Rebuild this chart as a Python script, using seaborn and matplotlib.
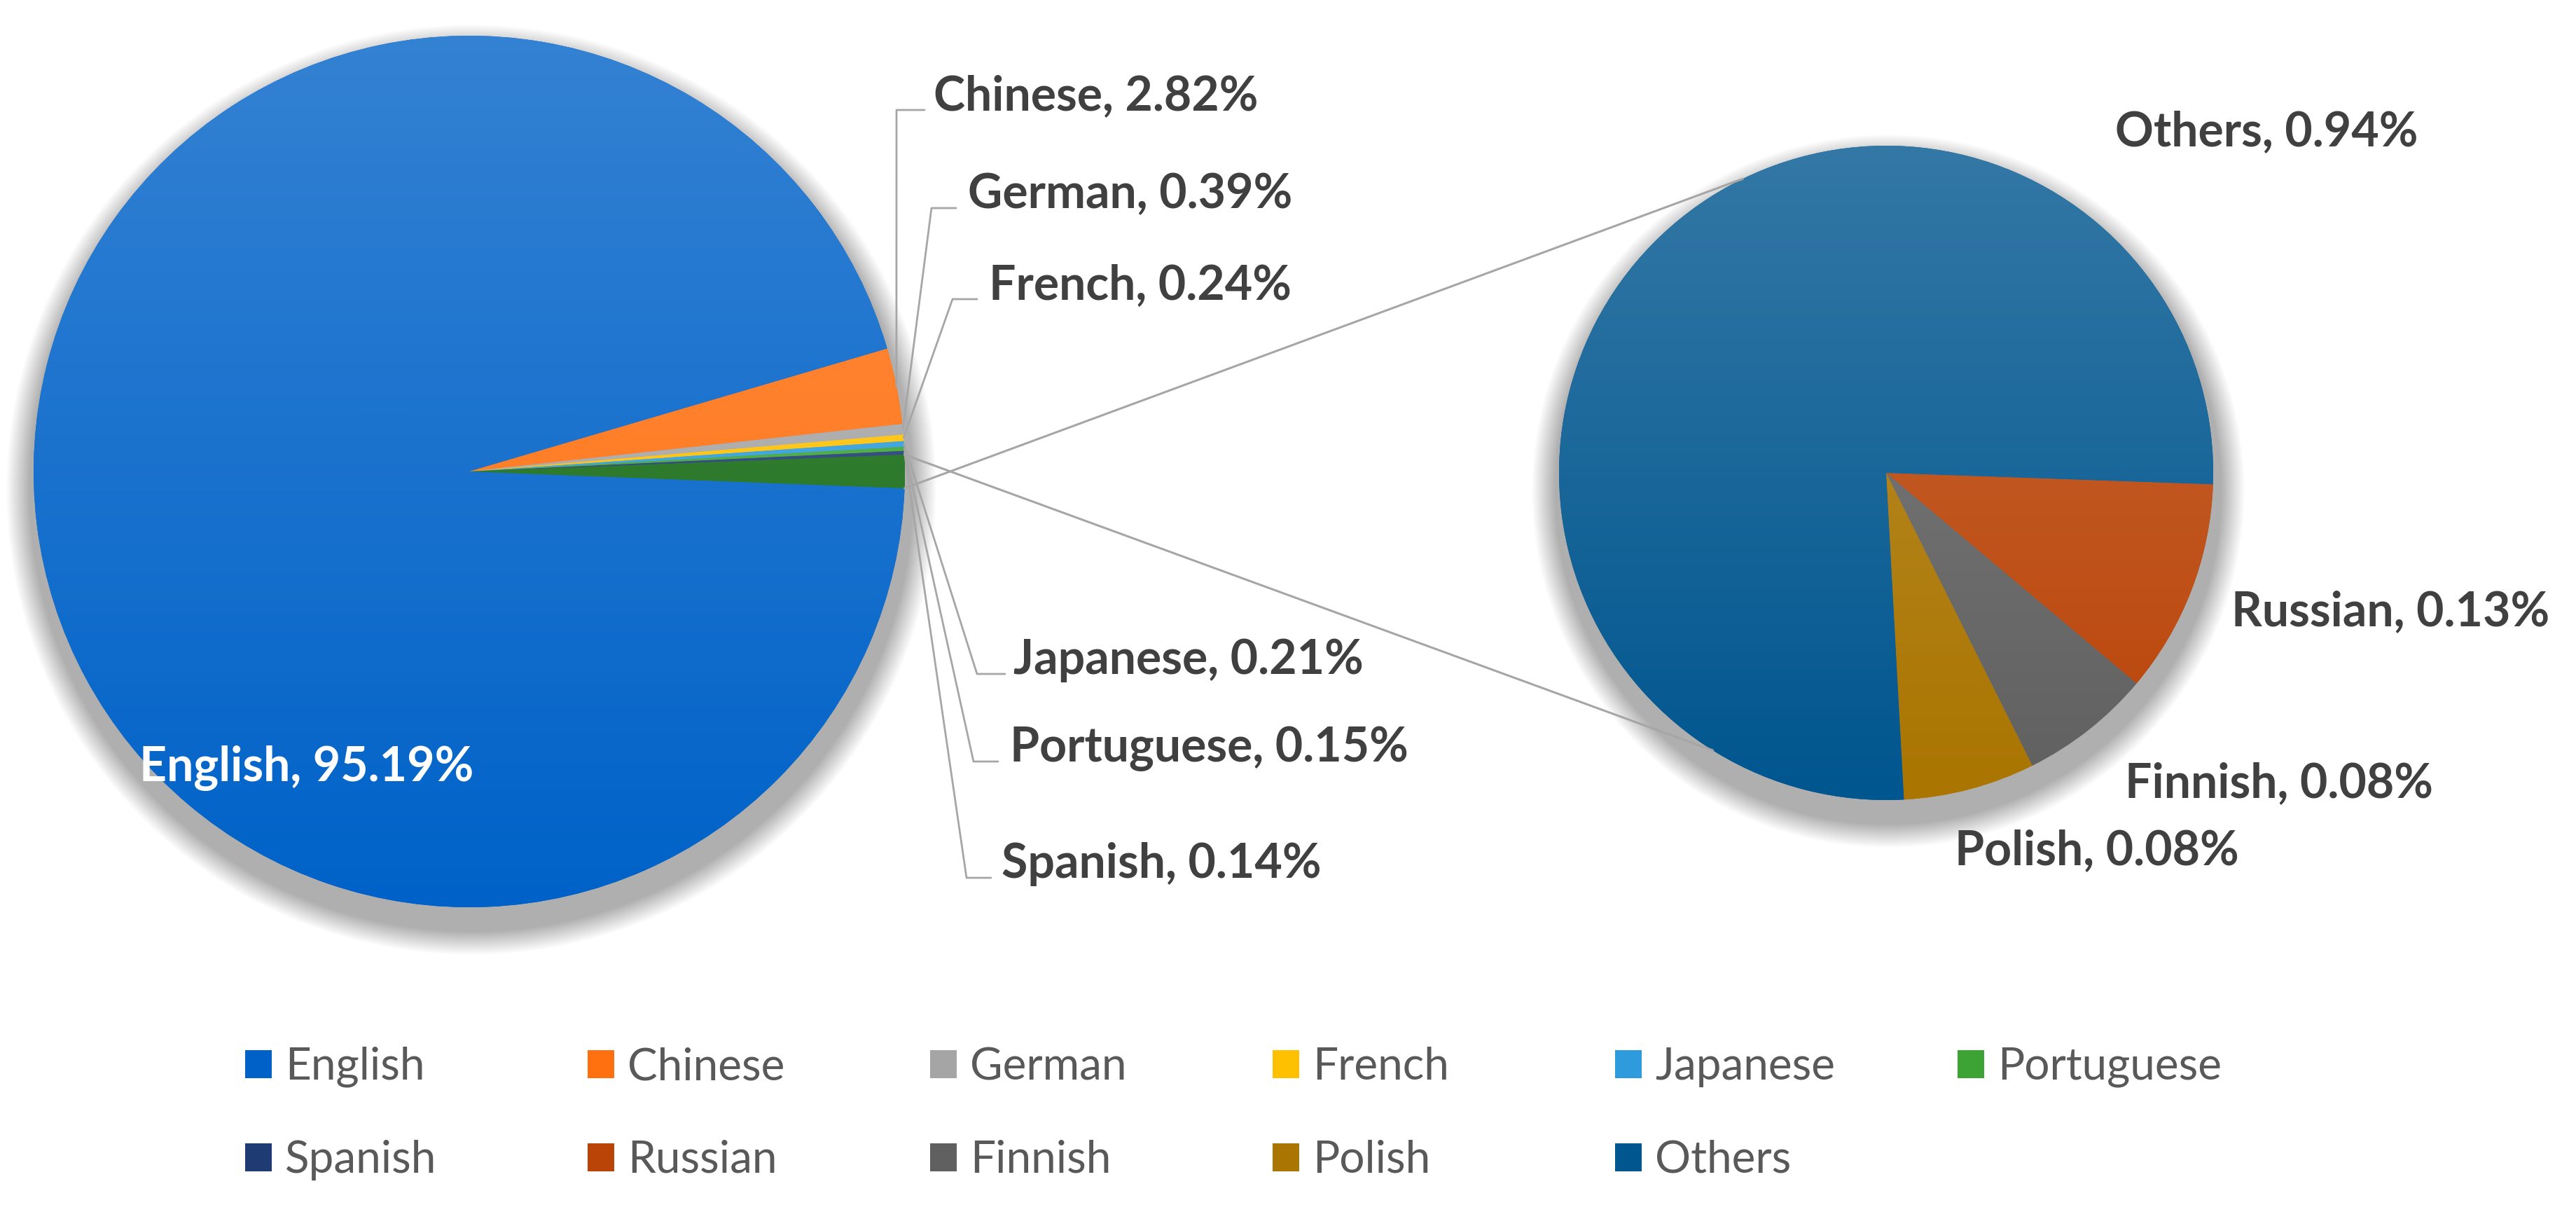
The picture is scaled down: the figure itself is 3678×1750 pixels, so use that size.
import numpy as np
import matplotlib
matplotlib.use("Agg")
import matplotlib.pyplot as plt
import matplotlib.colors as mcolors
from matplotlib.patches import Circle, Rectangle
import seaborn as sns

# share of pages by content language (%)
main_langs = ["English", "Chinese", "German", "French", "Japanese", "Portuguese", "Spanish"]
main_share = [95.19, 2.82, 0.39, 0.24, 0.21, 0.15, 0.14]
minor_langs = ["Russian", "Finnish", "Polish", "Others"]
minor_share = [0.13, 0.08, 0.08, 0.94]
legend_langs = ["English", "Chinese", "German", "French", "Japanese", "Portuguese",
                "Spanish", "Russian", "Finnish", "Polish", "Others"]

colors = {
    "English": "#0062C8", "Chinese": "#FF7010", "German": "#A5A5A5",
    "French": "#FFC000", "Japanese": "#2E9CDC", "Portuguese": "#3DA335",
    "Spanish": "#1F3B73", "Russian": "#BA4408", "Finnish": "#606060",
    "Polish": "#AA7500", "Others": "#00568F",
}
agg_color = "#176C16"

sns.set_theme(style="white")
plt.rcParams['font.family'] = ['Lato', 'DejaVu Sans']

W, H = 3678, 1750
fig = plt.figure(figsize=(W / 100, H / 100), dpi=100)
ax = fig.add_axes([0, 0, 1, 1])


def Y(y):
    return H - y


L_C, L_R = (670, Y(673)), 622
R_C, R_R = (2693, Y(675)), 467
line_col = "#A6A6A6"
lab_col = "#404040"


def shadow(center, r):
    # soft drop shadow, mostly below the pie
    n = 40
    for k in range(n):
        f = 1 - k / n
        ax.add_patch(Circle((center[0] + 3, center[1] - 26), r + 8 + 34 * f,
                            color='k', alpha=0.008, lw=0, zorder=0))


def grad_fill(wedges, cols, center, r):
    # excel style vertical gradient, lighter on top
    for w, c in zip(wedges, cols):
        rgb = np.array(mcolors.to_rgb(c))
        top = rgb + (1 - rgb) * 0.2
        pal = np.array(sns.blend_palette([rgb, top], 64))
        im = ax.imshow(pal[:, None, :], extent=[center[0] - r, center[0] + r,
                                                center[1] - r, center[1] + r],
                       origin='lower', aspect='auto', interpolation='bilinear', zorder=2)
        im.set_clip_path(w)


shadow(L_C, L_R)
shadow(R_C, R_R)

agg = sum(minor_share)
agg_deg = agg / (sum(main_share) + agg) * 360
left_cols = [colors[n] for n in main_langs] + [agg_color]
wl, _ = ax.pie(main_share + [agg], colors=left_cols, startangle=-agg_deg / 2,
               counterclock=False, center=L_C, radius=L_R, frame=True,
               wedgeprops=dict(linewidth=0, zorder=1))
grad_fill(wl, left_cols, L_C, L_R)

right_cols = [colors[n] for n in minor_langs]
wr, _ = ax.pie(minor_share, colors=right_cols, startangle=-2, counterclock=False,
               center=R_C, radius=R_R, frame=True, wedgeprops=dict(linewidth=0, zorder=1))
grad_fill(wr, right_cols, R_C, R_R)


def on_circle(center, r, deg):
    t = np.deg2rad(deg)
    return center[0] + r * np.cos(t), center[1] + r * np.sin(t)


# connector lines between the two pies
for a_left, a_right in [(wl[-1].theta1, 116), (wl[-1].theta2, -122)]:
    p0 = on_circle(L_C, L_R, a_left)
    p1 = on_circle(R_C, R_R, a_right)
    ax.plot([p0[0], p1[0]], [p0[1], p1[1]], color=line_col, lw=2.2, zorder=3)

# label layout: elbow point, end of horizontal leader, text x, baseline
leader = {
    "Chinese": (1280, 157, 1320, 1333),
    "German": (1330, 297, 1365, 1382),
    "French": (1360, 427, 1395, 1412),
    "Japanese": (1395, 962, 1435, 1447),
    "Portuguese": (1390, 1087, 1425, 1442),
    "Spanish": (1380, 1253, 1415, 1430),
}
fs = 49
for w, name, val in zip(wl, main_langs, main_share):
    txt = f"{name}, {val:.2f}%"
    if name == "English":
        ax.text(199, Y(1115), txt, fontsize=fs, fontweight='bold', color='white',
                ha='left', va='baseline', zorder=5)
        continue
    ex, ey, hx, tx = leader[name]
    p0 = on_circle(L_C, L_R, (w.theta1 + w.theta2) / 2)
    ax.plot([p0[0], ex, hx], [p0[1], Y(ey), Y(ey)], color=line_col, lw=2.0, zorder=3)
    ax.text(tx, Y(ey), txt, fontsize=fs, fontweight='bold', color=lab_col,
            ha='left', va='baseline', zorder=5)

right_pos = {"Others": (3020, 208), "Russian": (3186, 893),
             "Finnish": (3034, 1138), "Polish": (2791, 1234)}
for name, val in zip(minor_langs, minor_share):
    x, y = right_pos[name]
    ax.text(x, Y(y), f"{name}, {val:.2f}%", fontsize=fs, fontweight='bold',
            color=lab_col, ha='left', va='baseline', zorder=5)

# legend, two rows of six
for i, name in enumerate(legend_langs):
    row, col = divmod(i, 6)
    x0 = 350 + col * 489
    yc = [1519, 1652][row]
    ax.add_patch(Rectangle((x0, Y(yc) - 20), 38, 40, color=colors[name], lw=0, zorder=4))
    ax.text(x0 + 57, Y(yc + 22), name, fontsize=46, color='#595959',
            ha='left', va='baseline', zorder=5)

ax.set_xlim(0, W)
ax.set_ylim(0, H)
ax.set_axis_off()
fig.savefig("out.png", dpi=100, facecolor='white')
